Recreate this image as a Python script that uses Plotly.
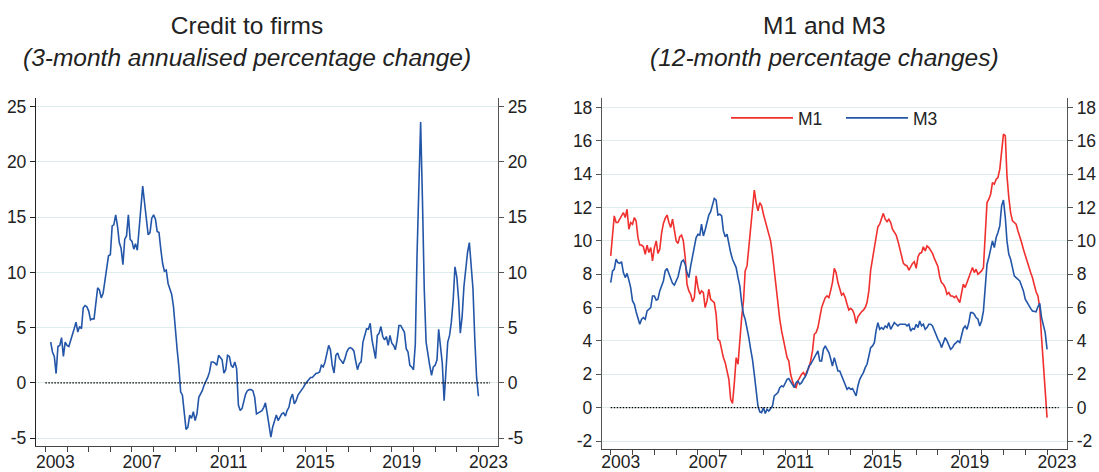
import pandas as pd
import plotly.graph_objects as go

# Credit to firms, 3-month annualised % change, monthly from Apr 2003
credit_start = "2003-04-01"
credit_firms = [
    3.7, 2.8, 2.4, 0.85, 3.3, 3.4, 4.1, 2.4, 3.7, 3.4,
    3.3, 3.8, 4.2, 4.9, 5.5, 4.6, 5.1, 4.9, 6.8, 7.0,
    6.9, 6.5, 5.7, 5.8, 5.8, 7.2, 8.6, 8.4, 7.7, 8.1,
    9.4, 10.5, 11.5, 11.6, 14.2, 14.3, 15.2, 14.2, 12.7, 12.2,
    10.7, 13.0, 13.3, 15.2, 13.0, 12.8, 12.1, 12.6, 12.0, 13.9,
    16.3, 17.8, 16.3, 14.5, 13.4, 13.6, 14.9, 15.2, 14.8, 13.7,
    13.6, 12.1, 10.8, 10.1, 10.2, 9.0, 8.4, 8.0, 6.9, 4.5,
    3.0, 1.5, -0.8, -1.1, -2.8, -4.2, -4.0, -2.9, -3.2, -2.6,
    -3.4, -2.8, -1.3, -1.0, -0.7, -0.2, 0.1, 0.5, 1.0, 1.9,
    1.9, 1.8, 1.6, 2.5, 2.3, 2.1, 0.9, 1.2, 2.5, 2.4,
    1.6, 1.4, 1.9, 1.3, -2.0, -2.5, -2.3, -1.5, -1.0, -0.7,
    -0.6, -0.6, -0.7, -1.3, -2.8, -2.7, -2.6, -2.5, -2.2, -1.8,
    -2.8, -3.9, -4.9, -4.0, -3.4, -2.9, -3.4, -3.1, -2.8, -2.7,
    -3.0, -2.5, -2.2, -1.4, -1.0, -1.9, -1.6, -1.1, -0.9, -0.6,
    -0.4, -0.1, 0.1, 0.25, 0.5, 0.5, 0.7, 0.85, 0.9, 1.0,
    1.6, 1.45, 1.9, 2.7, 3.4, 3.0, 1.6, 0.9, 2.5, 2.7,
    2.2, 2.0, 1.75, 2.2, 2.8, 3.1, 3.2, 3.1, 2.9, 2.0,
    1.2, 1.75, 1.9, 3.7, 4.3, 4.9, 4.85, 5.4, 3.9, 3.0,
    2.2, 4.3, 4.5, 5.1, 4.2, 3.9, 4.2, 3.4, 4.3, 3.6,
    3.4, 3.0, 3.9, 5.2, 5.2, 4.9, 4.6, 3.1, 2.8, 1.6,
    1.45, 1.2, 3.5, 11.5, 18.5, 23.6, 16.5, 8.5, 3.7, 2.5,
    1.6, 0.7, 1.45, 1.6, 2.1, 4.85, 3.0, 1.8, -1.6, 1.4,
    3.7, 4.3, 5.5, 7.5, 10.5, 9.6, 7.5, 4.5, 6.0, 8.7,
    10.5, 11.8, 12.7, 10.5, 8.5, 3.9, 0.5, -1.2,
]

# M1 and M3, 12-month % changes, monthly from Jan 2003
money_start = "2003-01-01"
m1 = [
    9.1, 10.3, 11.5, 11.1, 11.1, 11.3, 11.5, 11.7, 11.4, 11.9,
    10.7, 11.1, 11.0, 11.4, 11.2, 10.2, 9.75, 9.75, 9.65, 9.2,
    9.75, 9.3, 9.6, 8.8, 9.6, 10.0, 9.25, 9.5, 10.45, 11.05,
    11.35, 11.55, 11.1, 10.8, 11.3, 10.6, 10.0, 9.85, 10.25, 10.35,
    10.0, 9.0, 7.4, 7.0, 6.8, 6.35, 6.6, 7.9, 7.2, 6.8,
    7.0, 6.9, 6.0, 6.4, 7.1, 6.5, 6.4, 6.3, 5.6, 4.1,
    4.0, 3.4, 3.0, 2.7, 2.2, 1.7, 0.5, 0.25, 1.5, 3.0,
    2.6, 4.2, 5.4, 6.4, 8.2, 8.5, 9.7, 11.0, 12.0, 13.05,
    12.3, 11.8, 12.3, 12.1, 11.6, 11.2, 10.8, 10.4, 10.0, 9.2,
    8.2, 7.2, 6.0, 5.3, 4.6, 4.0, 3.6, 3.0, 2.8, 2.0,
    1.6, 1.3, 1.2, 1.6, 1.8, 2.0, 2.1, 1.9, 2.2, 2.4,
    2.8, 3.4, 4.4, 4.5, 4.8, 5.45, 6.0, 6.3, 6.6, 6.7,
    6.6, 7.05, 7.5, 8.35, 8.1, 7.5, 7.05, 6.75, 6.85, 6.6,
    6.2, 5.85, 5.95, 5.85, 5.6, 5.05, 5.45, 5.65, 5.75, 5.85,
    6.0, 6.3, 7.0, 8.25, 8.85, 9.6, 10.2, 10.85, 11.0, 11.35,
    11.65, 11.3, 11.15, 11.3, 11.1, 10.7, 10.5, 10.35, 10.0, 9.55,
    9.0, 8.65, 8.55, 8.5, 8.25, 8.45, 8.65, 8.75, 8.35, 9.05,
    9.25, 9.3, 9.65, 9.4, 9.7, 9.6, 9.45, 9.25, 8.95, 8.75,
    8.45, 7.8, 7.5, 7.4, 7.2, 6.8, 6.9, 6.7, 6.7, 6.6,
    6.7, 6.5, 6.3, 6.9, 7.4, 7.2, 7.5, 7.8, 8.2, 8.4,
    8.1, 8.3, 8.0, 8.1, 8.2, 8.4, 10.3, 12.3, 12.5, 12.8,
    13.5, 13.4, 13.7, 13.8, 14.3, 15.5, 16.4, 16.3, 13.9, 12.6,
    11.7, 11.2, 11.1, 11.0, 10.6, 10.3, 9.9, 9.5, 9.1, 8.8,
    8.5, 8.1, 7.8, 7.3, 6.95, 6.7, 6.0, 4.2, 2.6, 0.8,
    -0.6,
]
m3 = [
    7.5, 8.2, 8.3, 8.9, 8.7, 8.65, 8.75, 8.1, 7.8, 8.05,
    7.65, 7.2, 6.4, 6.2, 5.75, 5.3, 5.0, 5.3, 5.4, 5.3,
    5.8, 5.9, 6.0, 6.7, 6.7, 6.45, 6.5, 7.0, 7.3, 7.6,
    8.2, 8.35, 8.05, 7.75, 7.45, 7.35, 7.6, 7.85, 8.3, 8.75,
    8.85, 8.6, 8.1, 7.8, 8.5, 9.0, 9.6, 10.2, 10.4, 10.35,
    11.0, 10.3, 10.65, 11.05, 11.55, 11.75, 12.15, 12.55, 12.45, 11.55,
    11.6, 11.5, 10.6, 10.25, 10.4, 9.8, 9.3, 8.9, 8.6, 8.4,
    7.8, 7.3, 6.3, 5.6, 5.3, 4.8, 4.2, 3.5, 2.9, 2.0,
    1.1, 0.1, -0.25, -0.3, 0.0, -0.35, -0.1, -0.2, -0.05, 0.1,
    0.7, 0.8, 0.9, 1.2, 1.3, 1.25, 1.5, 1.7, 1.75, 1.55,
    1.35, 1.2, 1.5, 1.6, 1.4, 1.5, 1.7, 1.85, 2.1, 2.5,
    2.6, 2.8, 3.0, 3.2, 3.4, 2.8, 2.8, 3.5, 3.7, 3.5,
    3.3, 2.9, 2.5, 3.0, 2.6, 2.2, 2.2, 1.9, 1.6, 1.3,
    1.1, 1.2, 1.1, 1.15, 0.9, 0.7, 1.3, 1.7, 1.9, 2.1,
    2.4, 2.6, 3.1, 3.6, 3.7, 3.9, 4.6, 5.1, 4.7, 4.8,
    4.7, 4.9, 4.8, 5.1, 4.7, 4.9, 5.1, 5.0, 4.9, 5.0,
    5.0, 5.0, 5.0, 4.9, 5.0, 4.6, 4.75, 4.7, 5.0, 4.8,
    5.2, 4.9, 5.0, 4.7, 4.8, 5.0, 5.0, 4.9, 4.6, 4.4,
    4.1, 3.9, 3.6, 3.9, 4.2, 4.0, 3.7, 3.5, 3.6, 3.8,
    3.9, 4.0, 3.9, 4.4, 4.75, 4.9, 4.7, 5.1, 5.7, 5.7,
    5.6, 5.4, 5.3, 4.9, 5.2, 5.8, 7.4, 8.6, 9.0, 9.5,
    10.0, 9.6, 10.2, 10.5, 10.9, 12.1, 12.45, 11.4, 10.0, 9.2,
    8.9, 8.4, 7.9, 7.8, 7.7, 7.6, 7.3, 7.0, 6.5, 6.3,
    6.1, 5.95, 5.8, 5.75, 5.75, 6.05, 6.25, 5.4, 5.0, 4.5,
    3.5,
]

years = list(range(2003, 2024))
year_labels = [str(y) if (y - 2003) % 4 == 0 else "" for y in years]
credit_ticks = [-5, 0, 5, 10, 15, 20, 25]
money_ticks = [-2, 0, 2, 4, 6, 8, 10, 12, 14, 16, 18]
zero_line_span = ("2003-01-01", "2023-07-15")

BLUE = "#2356a8"
RED = "#f0302e"
FONT = "Liberation Sans, Arial, Helvetica, sans-serif"

credit_dates = pd.date_range(credit_start, periods=len(credit_firms), freq="MS")
money_dates = pd.date_range(money_start, periods=len(m1), freq="MS")

fig = go.Figure()

fig.add_trace(go.Scatter(
    x=credit_dates, y=credit_firms, mode="lines",
    line=dict(color=BLUE, width=1.6),
    name="Credit to firms", showlegend=False,
    xaxis="x", yaxis="y"
))
fig.add_trace(go.Scatter(
    x=money_dates, y=m1, mode="lines",
    line=dict(color=RED, width=1.6),
    name="M1", xaxis="x2", yaxis="y2"
))
fig.add_trace(go.Scatter(
    x=money_dates, y=m3, mode="lines",
    line=dict(color=BLUE, width=1.6),
    name="M3", xaxis="x2", yaxis="y2"
))

# empty traces so the right-hand mirror axes get drawn
for xa, ya in [("x", "y3"), ("x2", "y4")]:
    fig.add_trace(go.Scatter(x=[money_dates[0]], y=[None], mode="lines",
                             xaxis=xa, yaxis=ya, showlegend=False, hoverinfo="skip"))

# dotted zero lines
for xr, yr in [("x", "y"), ("x2", "y2")]:
    fig.add_shape(type="line", xref=xr, yref=yr,
                  x0=zero_line_span[0], x1=zero_line_span[1], y0=0, y1=0,
                  line=dict(color="black", width=1.3, dash="1.5px,1.5px"), layer="above")

tickfont = dict(family=FONT, size=17.5, color="#222")


def xaxis_cfg(domain, rng, anchor, standoff):
    return dict(
        type="date", domain=domain, range=list(rng), anchor=anchor,
        tickmode="array", tickvals=[f"{y}-01-01" for y in years], ticktext=year_labels,
        ticks="outside", ticklen=5, tickcolor="#444", tickwidth=1,
        showline=True, linecolor="#444", linewidth=1.2,
        showgrid=False, zeroline=False,
        ticklabelshift=10, ticklabelstandoff=standoff,
        tickfont=tickfont,
    )


def yaxis_cfg(domain, rng, ticks, anchor, side="left", overlaying=None, linecolor="#444"):
    cfg = dict(
        domain=domain, range=list(rng), anchor=anchor, side=side,
        tickmode="array", tickvals=ticks, ticktext=[str(t) for t in ticks],
        ticks="outside", ticklen=5, tickcolor=linecolor, tickwidth=1,
        showline=True, linecolor=linecolor, linewidth=1.3,
        zeroline=False, tickfont=tickfont,
    )
    if overlaying:
        cfg.update(overlaying=overlaying, showgrid=False)
    else:
        cfg.update(showgrid=True, gridcolor="#ddeded", gridwidth=1)
    return cfg


left_dom = [36 / 1099, 498 / 1099]
right_dom = [602 / 1099, 1067 / 1099]
left_ydom = [1 - 446 / 472, 1 - 98 / 472]
right_ydom = [1 - 449 / 472, 1 - 98 / 472]
credit_range = (-5.7, 25.77)
money_range = (-2.48, 18.57)

fig.update_layout(
    width=1099, height=472,
    margin=dict(l=0, r=0, t=0, b=0, autoexpand=False),
    paper_bgcolor="white", plot_bgcolor="white",
    font=dict(family=FONT, color="#222"),
    xaxis=xaxis_cfg(left_dom, ("2002-07-27", "2023-11-27"), "y", -5),
    yaxis=yaxis_cfg(left_ydom, credit_range, credit_ticks, "x", linecolor="#222"),
    yaxis3=yaxis_cfg(left_ydom, credit_range, credit_ticks, "x", side="right", overlaying="y", linecolor="#555"),
    xaxis2=xaxis_cfg(right_dom, ("2002-08-08", "2023-12-01"), "y2", -8),
    yaxis2=yaxis_cfg(right_ydom, money_range, money_ticks, "x2", linecolor="#555"),
    yaxis4=yaxis_cfg(right_ydom, money_range, money_ticks, "x2", side="right", overlaying="y2", linecolor="#555"),
    legend=dict(
        orientation="h", x=726 / 1099, xanchor="left", y=1 - 118 / 472, yanchor="middle",
        font=dict(family=FONT, size=17.5, color="#222"),
        bgcolor="rgba(0,0,0,0)", itemwidth=62,
        entrywidth=38, entrywidthmode="pixels",
    ),
    showlegend=True,
)

# panel titles
titles = [
    ("Credit to firms", "(3-month annualised percentage change)", 247),
    ("M1 and M3", "(12-month percentage changes)", 824),
]
for main, sub, cx in titles:
    fig.add_annotation(
        text=f"{main}<br><i>{sub}</i>", xref="paper", yref="paper",
        x=cx / 1099, y=1 - 42 / 472, xanchor="center", yanchor="middle",
        showarrow=False, font=dict(family=FONT, size=24.5, color="#222"),
    )

fig.write_html("out.html", config={"displayModeBar": False},
               post_script="document.body.style.margin = '0';")
